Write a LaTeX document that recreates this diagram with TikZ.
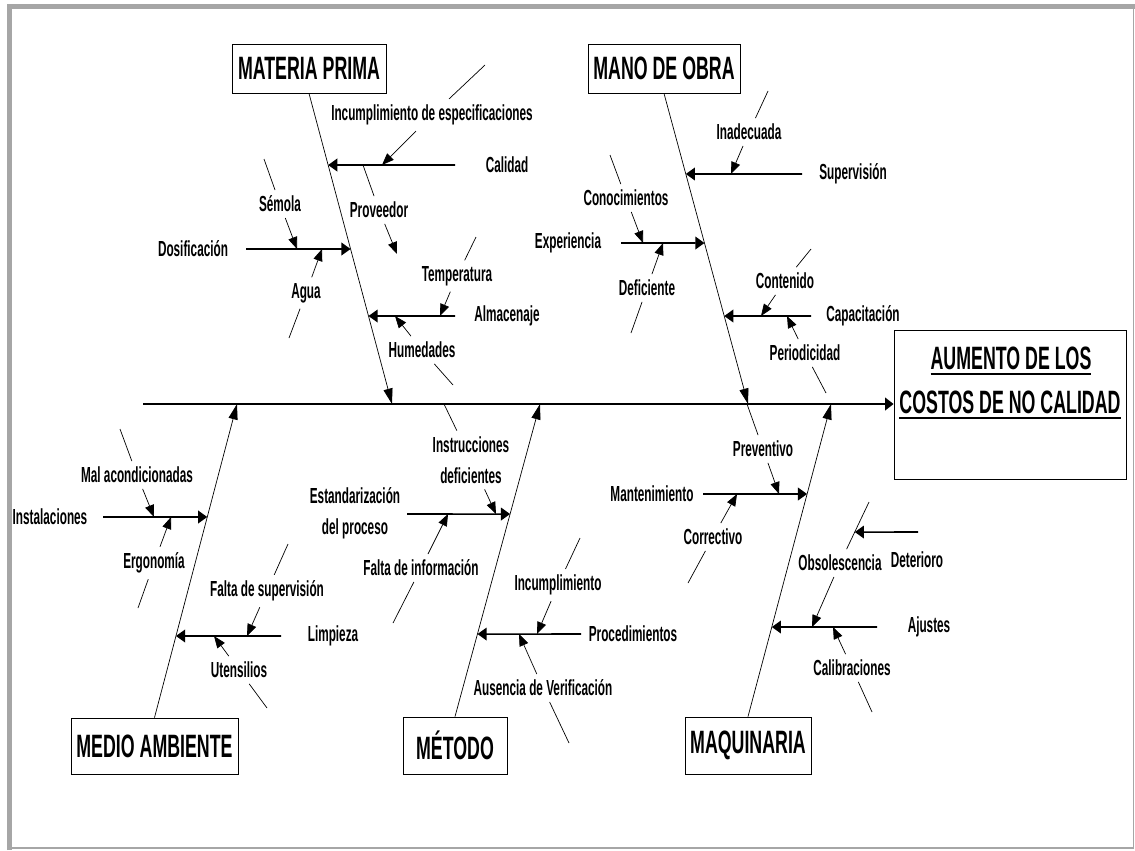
\documentclass[tikz,border=0pt]{standalone}
\usepackage{fontspec}
\setmainfont{Liberation Sans}[FakeStretch=0.54]
\newfontfamily\catfam{Liberation Sans}[FakeStretch=0.55]
\usetikzlibrary{arrows.meta,positioning,calc}
\definecolor{frame}{HTML}{A6A6A6}
\newcommand\lblfont{\fontsize{15.5}{22}\selectfont\bfseries}
\newcommand\catfont{\catfam\fontsize{23}{26}\selectfont\bfseries}
\newcommand\ulword[1]{\setbox0\hbox{#1}\rlap{\rule[-4.5pt]{\wd0}{2pt}}\box0}
\begin{document}
\begin{tikzpicture}[x=0.025cm, y=-0.025cm,
  cat/.style={draw, fill=white, font=\catfont, inner sep=0pt, line width=0.6pt},
  lbl/.style={font=\lblfont, inner xsep=2pt, inner ysep=4pt, align=center},
  spine/.style={line width=1.2pt, -{Triangle[length=6pt,width=9pt]}},
  bone/.style={line width=0.5pt, -{Triangle[length=11pt,width=6.5pt]}},
  sub/.style={line width=1.1pt, -{Triangle[length=6.5pt,width=9pt]}},
  twig/.style={line width=0.5pt},
  twigtip/.style={line width=0.5pt, -{Triangle[length=8.5pt,width=6.5pt]}},
]
\useasboundingbox (0,0) rectangle (1135,850);
% frame
\draw[frame, line width=3.5pt] (9.5,850) -- (9.5,6.5) -- (1135,6.5);
\draw[frame, line width=1.2pt] (9.5,848) -- (1133.5,848) -- (1133.5,6.5);

% effect
\node[cat, minimum width=5.8cm, minimum height=3.725cm] (eff) at (1010,404.5) {};
\node[font=\catfont, inner sep=0pt, anchor=base] (eff1) at (1011,369) {\ulword{AUMENTO DE LOS}};
\node[font=\catfont, inner sep=0pt, anchor=base] (eff2) at (1010,413) {\ulword{COSTOS DE NO CALIDAD}};

% categories
\node[cat, minimum width=3.85cm, minimum height=1.225cm] (mp) at (309,68.5) {MATERIA PRIMA};
\node[cat, minimum width=3.8cm, minimum height=1.225cm] (mo) at (664,68.5) {MANO DE OBRA};
\node[cat, minimum width=4.175cm, minimum height=1.4cm] (ma) at (154.5,746) {MEDIO AMBIENTE};
\node[cat, minimum width=2.6cm, minimum height=1.425cm] (me) at (455,745.5) {MÉTODO};
\node[cat, minimum width=3.15cm, minimum height=1.425cm] (mq) at (748,745.5) {MAQUINARIA};

% spine and main bones
\coordinate (tail) at (143,404);
\coordinate (mpj) at (392,404);
\coordinate (moj) at (748,404);
\coordinate (maj) at (237,404);
\coordinate (mej) at (540,404);
\coordinate (mqj) at (831,404);
\draw[spine] (tail) -- (eff.west |- tail);
\draw[bone] (mp.south) -- (mpj);
\draw[bone] (mo.south) -- (moj);
\draw[bone] (ma.north) -- (maj);
\draw[bone] (me.north) -- (mej);
\draw[bone] (mq.north) -- (mqj);

% MATERIA PRIMA
\node[lbl] (cal) at (507,165) {Calidad};
\coordinate (cal0) at (455,165);
\draw[sub] (cal0) -- (intersection of mp.south--mpj and cal0--cal);
\node[lbl] (incesp) at (432,115) {Incumplimiento de especificaciones};
\coordinate (incesp0) at (485,65);
\coordinate (incesp1) at (382,165);
\draw[twig] (incesp0) -- (incesp);
\draw[twigtip] (incesp) -- (incesp1);
\node[lbl] (prov) at (379,210) {Proveedor};
\coordinate (prov0) at (363,165);
\coordinate (prov1) at (397,254);
\draw[twig] (prov0) -- (prov);
\draw[twigtip] (prov) -- (prov1);

\node[lbl] (dos) at (193,249) {Dosificación};
\coordinate (dos0) at (246,249);
\draw[sub] (dos0) -- (intersection of mp.south--mpj and dos0--dos);
\node[lbl] (sem) at (280,204) {Sémola};
\coordinate (sem0) at (264,159);
\coordinate (sem1) at (297,249);
\draw[twig] (sem0) -- (sem);
\draw[twigtip] (sem) -- (sem1);
\node[lbl] (agua) at (306,293) {Agua};
\coordinate (agua0) at (289,338);
\coordinate (agua1) at (322,249);
\draw[twig] (agua0) -- (agua);
\draw[twigtip] (agua) -- (agua1);

\node[lbl] (alm) at (507,316) {Almacenaje};
\coordinate (alm0) at (455,316);
\draw[sub] (alm0) -- (intersection of mp.south--mpj and alm0--alm);
\node[lbl] (temp) at (457,276) {Temperatura};
\coordinate (temp0) at (476,237);
\coordinate (temp1) at (440,316);
\draw[twig] (temp0) -- (temp);
\draw[twigtip] (temp) -- (temp1);
\node[lbl] (hum) at (422,350) {Humedades};
\coordinate (hum0) at (453,385);
\coordinate (hum1) at (395,316);
\draw[twig] (hum0) -- (hum);
\draw[twigtip] (hum) -- (hum1);

% MANO DE OBRA
\node[lbl] (sup) at (853,174) {Supervisión};
\coordinate (sup0) at (802,174);
\draw[sub] (sup0) -- (intersection of mo.south--moj and sup0--sup);
\node[lbl] (inad) at (749,132) {Inadecuada};
\coordinate (inad0) at (768,91);
\coordinate (inad1) at (731,174);
\draw[twig] (inad0) -- (inad);
\draw[twigtip] (inad) -- (inad1);

\node[lbl] (exp) at (568,243) {Experiencia};
\coordinate (exp0) at (621,243);
\draw[sub] (exp0) -- (intersection of mo.south--moj and exp0--exp);
\node[lbl] (con) at (626,198) {Conocimientos};
\coordinate (con0) at (610,155);
\coordinate (con1) at (643,243);
\draw[twig] (con0) -- (con);
\draw[twigtip] (con) -- (con1);
\node[lbl] (def) at (647,288) {Deficiente};
\coordinate (def0) at (631,333);
\coordinate (def1) at (663,243);
\draw[twig] (def0) -- (def);
\draw[twigtip] (def) -- (def1);

\node[lbl] (cap) at (863,316) {Capacitación};
\coordinate (cap0) at (811,316);
\draw[sub] (cap0) -- (intersection of mo.south--moj and cap0--cap);
\node[lbl] (cont) at (785,281) {Contenido};
\coordinate (cont0) at (811,249);
\coordinate (cont1) at (761,316);
\draw[twig] (cont0) -- (cont);
\draw[twigtip] (cont) -- (cont1);
\node[lbl] (per) at (805,353) {Periodicidad};
\coordinate (per0) at (826,393);
\coordinate (per1) at (787,316);
\draw[twig] (per0) -- (per);
\draw[twigtip] (per) -- (per1);

% MEDIO AMBIENTE
\node[lbl] (ins) at (50,517) {Instalaciones};
\coordinate (ins0) at (103,517);
\draw[sub] (ins0) -- (intersection of ma.north--maj and ins0--ins);
\node[lbl] (malac) at (137,475) {Mal acondicionadas};
\coordinate (malac0) at (120,429);
\coordinate (malac1) at (154,517);
\draw[twig] (malac0) -- (malac);
\draw[twigtip] (malac) -- (malac1);
\node[lbl] (erg) at (154,563) {Ergonomía};
\coordinate (erg0) at (138,608);
\coordinate (erg1) at (171,517);
\draw[twig] (erg0) -- (erg);
\draw[twigtip] (erg) -- (erg1);

\node[lbl] (lim) at (333,636) {Limpieza};
\coordinate (lim0) at (281,636);
\draw[sub] (lim0) -- (intersection of ma.north--maj and lim0--lim);
\node[lbl] (fsup) at (267,591) {Falta de supervisión};
\coordinate (fsup0) at (288,544);
\coordinate (fsup1) at (247,636);
\draw[twig] (fsup0) -- (fsup);
\draw[twigtip] (fsup) -- (fsup1);
\node[lbl] (ute) at (239,670) {Utensilios};
\coordinate (ute0) at (267,708);
\coordinate (ute1) at (214,636);
\draw[twig] (ute0) -- (ute);
\draw[twigtip] (ute) -- (ute1);

% METODO
\node[lbl] (est) at (355,513) {Estandarización\\del proceso};
\coordinate (est0) at (407,514);
\draw[sub] (est0) -- (intersection of me.north--mej and est0--{(355,514)});
\node[lbl] (instr) at (471,460) {Instrucciones\\deficientes};
\coordinate (instr0) at (444,404);
\coordinate (instr1) at (496,514);
\draw[twig] (instr0) -- (instr);
\draw[twigtip] (instr) -- (instr1);
\node[lbl] (finf) at (421,568) {Falta de información};
\coordinate (finf0) at (393,623);
\coordinate (finf1) at (448,514);
\draw[twig] (finf0) -- (finf);
\draw[twigtip] (finf) -- (finf1);

\node[lbl] (proc) at (633,634) {Procedimientos};
\coordinate (proc0) at (581,634);
\draw[sub] (proc0) -- (intersection of me.north--mej and proc0--proc);
\node[lbl] (inc) at (558,585) {Incumplimiento};
\coordinate (inc0) at (580,538);
\coordinate (inc1) at (537,634);
\draw[twig] (inc0) -- (inc);
\draw[twigtip] (inc) -- (inc1);
\node[lbl] (ausv) at (543,688) {Ausencia de Verificación};
\coordinate (ausv0) at (569,743);
\coordinate (ausv1) at (519,634);
\draw[twig] (ausv0) -- (ausv);
\draw[twigtip] (ausv) -- (ausv1);

% MAQUINARIA
\node[lbl] (man) at (652,494) {Mantenimiento};
\coordinate (man0) at (703,494);
\draw[sub] (man0) -- (intersection of mq.north--mqj and man0--man);
\node[lbl] (prev) at (763,449) {Preventivo};
\coordinate (prev0) at (747,404);
\coordinate (prev1) at (779,494);
\draw[twig] (prev0) -- (prev);
\draw[twigtip] (prev) -- (prev1);
\node[lbl] (corr) at (713,537) {Correctivo};
\coordinate (corr0) at (688,583);
\coordinate (corr1) at (737,494);
\draw[twig] (corr0) -- (corr);
\draw[twigtip] (corr) -- (corr1);

\node[lbl] (aju) at (929,627) {Ajustes};
\coordinate (aju0) at (877,627);
\draw[sub] (aju0) -- (intersection of mq.north--mqj and aju0--aju);
\node[lbl] (obs) at (840,563) {Obsolescencia};
\coordinate (obs0) at (869,502);
\coordinate (obs1) at (812,627);
\draw[twig] (obs0) -- (obs);
\draw[twigtip] (obs) -- (obs1);
\node[lbl] (det) at (917,560) {Deterioro};
\coordinate (det0) at (918,532);
\draw[sub] (det0) -- (intersection of obs0--obs and det0--{(800,532)});
\node[lbl] (calib) at (852,668) {Calibraciones};
\coordinate (calib0) at (872,712);
\coordinate (calib1) at (833,627);
\draw[twig] (calib0) -- (calib);
\draw[twigtip] (calib) -- (calib1);
\end{tikzpicture}
\end{document}
